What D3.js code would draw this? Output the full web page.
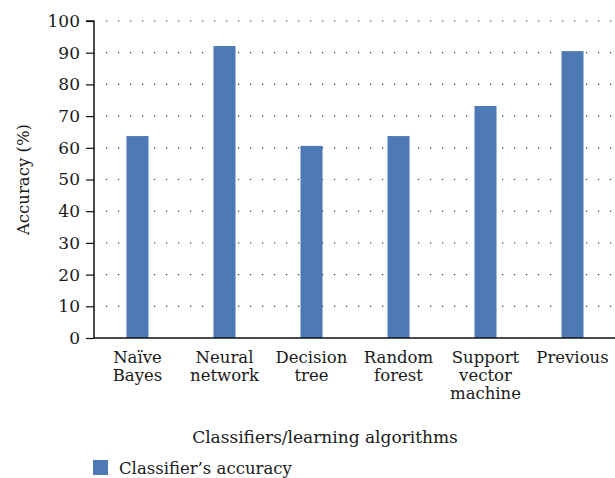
<!DOCTYPE html>
<html><head><meta charset="utf-8">
<script src="https://cdn.jsdelivr.net/npm/d3@7"></script>
<style>body{margin:0;background:#fff}svg{display:block}</style>
</head><body><svg id="c" width="615" height="478"></svg>
<script>
const categories = [["Naïve","Bayes"],["Neural","network"],["Decision","tree"],["Random","forest"],["Support","vector","machine"],["Previous"]];
const values = [63.7, 92.1, 60.6, 63.7, 73.2, 90.5];
const yTicks = [0,10,20,30,40,50,60,70,80,90,100];
const seriesName = "Classifier’s accuracy";
const xTitle = "Classifiers/learning algorithms";
const yTitle = "Accuracy (%)";

const FONT = "'DejaVu Serif', 'Liberation Serif', 'Times New Roman', serif";
const svg = d3.select("#c");
const L = 94, R = 616, T = 21, B = 338;
const x = d3.scaleBand().domain(d3.range(categories.length)).range([L, R]);
const y = d3.scaleLinear().domain([0, 100]).range([B, T]);
const color = "#4d7ab4";
const FS = 16.5;

// gridlines
svg.append("g").selectAll("line").data(yTicks.filter(d => d > 0)).join("line")
  .attr("x1", L + 12).attr("x2", R).attr("y1", d => y(d)).attr("y2", d => y(d))
  .attr("stroke", "#333").attr("stroke-width", 1.2).attr("stroke-dasharray", "1.2,10.8");

// bars
const bw = 22;
svg.append("g").selectAll("rect").data(values).join("rect")
  .attr("x", (d, i) => x(i) + x.bandwidth() / 2 - bw / 2)
  .attr("width", bw)
  .attr("y", d => y(d)).attr("height", d => B - y(d))
  .attr("fill", color);

// y axis
const ya = svg.append("g").attr("transform", `translate(${L},0)`)
  .call(d3.axisLeft(y).tickValues(yTicks).tickSize(8).tickPadding(6));
ya.attr("font-family", null).attr("font-size", null);
ya.select(".domain").attr("stroke", "#111").attr("stroke-width", 1.5).attr("d", `M-8,${T}H0V${B}`);
ya.selectAll(".tick line").attr("stroke", "#111").attr("stroke-width", 1.2);
ya.selectAll(".tick text").style("font-family", FONT).style("font-size", "17px").attr("fill", "#1a1a1a");

// x axis line
svg.append("line").attr("x1", L).attr("x2", R).attr("y1", B).attr("y2", B)
  .attr("stroke", "#111").attr("stroke-width", 1.5);

// x labels
const xl = svg.append("g").selectAll("text").data(categories).join("text")
  .attr("text-anchor", "middle").style("font-family", FONT).style("font-size", "16.5px").attr("fill", "#1a1a1a")
  .attr("x", (d, i) => x(i) + x.bandwidth() / 2).attr("y", 363);
xl.selectAll("tspan").data(d => d).join("tspan")
  .attr("x", function () { return d3.select(this.parentNode).attr("x"); })
  .attr("dy", (d, i) => i === 0 ? 0 : 18).text(d => d);

// titles
svg.append("text").attr("x", 325).attr("y", 443).attr("text-anchor", "middle")
  .style("font-family", FONT).style("font-size", "17px").attr("fill", "#1a1a1a").text(xTitle);
svg.append("text").attr("transform", `translate(29,${(T + B) / 2}) rotate(-90)`)
  .attr("text-anchor", "middle").style("font-family", FONT).style("font-size", FS + "px").attr("fill", "#1a1a1a").text(yTitle);

// legend
svg.append("rect").attr("x", 93).attr("y", 460).attr("width", 15).attr("height", 15).attr("fill", color);
svg.append("text").attr("x", 119).attr("y", 474).style("font-family", FONT).style("font-size", FS + "px").attr("fill", "#1a1a1a").text(seriesName);
</script></body></html>
